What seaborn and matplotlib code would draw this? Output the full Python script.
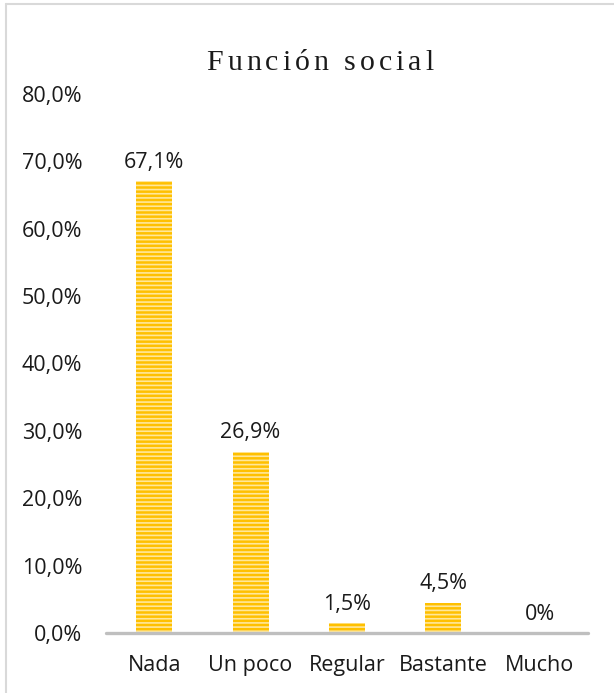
import matplotlib
matplotlib.use("Agg")
import matplotlib.pyplot as plt
from matplotlib.lines import Line2D
import seaborn as sns
import pandas as pd

# Survey results for "Función social"
categories = ["Nada", "Un poco", "Regular", "Bastante", "Mucho"]
percentages = [67.1, 26.9, 1.5, 4.5, 0.0]
value_labels = ["67,1%", "26,9%", "1,5%", "4,5%", "0%"]
y_ticks = [0, 10, 20, 30, 40, 50, 60, 70, 80]
y_tick_labels = ["0,0%", "10,0%", "20,0%", "30,0%", "40,0%", "50,0%",
                 "60,0%", "70,0%", "80,0%"]
title_text = "Función social"

sns.set_theme(style="white")
plt.rcParams["font.family"] = ["Open Sans", "DejaVu Sans"]
plt.rcParams["hatch.linewidth"] = 1.2
plt.rcParams["hatch.color"] = "#FFE79A"

df = pd.DataFrame({"categoria": categories, "porcentaje": percentages})

fig = plt.figure(figsize=(6.14, 6.93), dpi=100)
ax = fig.add_axes([0.1726, 0.0866, 0.9577 - 0.1726, 0.8644 - 0.0866])

sns.barplot(data=df, x="categoria", y="porcentaje", color="#FFC000",
            width=0.375, saturation=1, ax=ax)

for patch in ax.patches:
    patch.set_hatch("----")
    patch.set_edgecolor("#FFE79A")
    patch.set_linewidth(0)

label_size = 15.5
ax.set_xlim(-0.5, 4.5)
ax.set_ylim(0, 80)
ax.set_yticks(y_ticks)
ax.set_yticklabels(y_tick_labels, fontsize=label_size, color="#1a1a1a")
ax.set_xticks(range(len(categories)))
ax.set_xticklabels(categories, fontsize=label_size, color="#1a1a1a")
ax.tick_params(axis="y", length=0, pad=17)
ax.tick_params(axis="x", length=0, pad=16)
ax.set_xlabel("")
ax.set_ylabel("")
ax.grid(False)
for s in ax.spines.values():
    s.set_visible(False)

# category axis line
ax.axhline(0, color="#BFBFBF", lw=2.4, clip_on=False, zorder=3)

# data labels above each bar
for i, (v, lab) in enumerate(zip(percentages, value_labels)):
    ax.annotate(lab, xy=(i, v), xytext=(0, 6), textcoords="offset points",
                ha="center", va="bottom", fontsize=label_size, color="#1a1a1a")

# title with wide letter spacing
fig.canvas.draw()
renderer = fig.canvas.get_renderer()
title_kw = dict(fontsize=21.5, family="Liberation Serif", color="#1a1a1a",
                va="baseline", ha="left")
tracking = 4.0  # extra pixels between letters
widths = []
for ch in title_text:
    if ch == " ":
        t = fig.text(0, 0, "n", **title_kw)
        w = t.get_window_extent(renderer).width * 0.5
    else:
        t = fig.text(0, 0, ch, **title_kw)
        w = t.get_window_extent(renderer).width
    t.remove()
    widths.append(w)
total = sum(widths) + tracking * (len(title_text) - 1)
fig_w, fig_h = fig.bbox.width, fig.bbox.height
x = 320 - total / 2
baseline_y = 70
for ch, w in zip(title_text, widths):
    if ch != " ":
        fig.text(x / fig_w, 1 - baseline_y / fig_h, ch, **title_kw)
    x += w + tracking

# chart area border (top and left edges)
fig.add_artist(Line2D([5.5 / fig_w, 5.5 / fig_w], [0, 1 - 4 / fig_h],
                      transform=fig.transFigure, color="#D9D9D9", lw=1.5))
fig.add_artist(Line2D([5.5 / fig_w, 1], [1 - 4 / fig_h, 1 - 4 / fig_h],
                      transform=fig.transFigure, color="#D9D9D9", lw=1.5))

fig.savefig("out.png", dpi=100, facecolor="white")
